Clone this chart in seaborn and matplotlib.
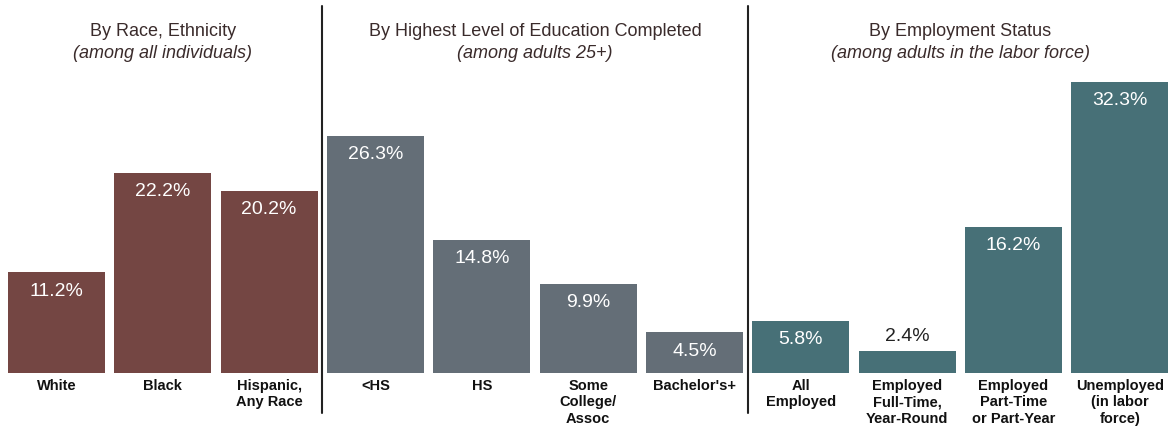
import matplotlib
matplotlib.use("Agg")
import matplotlib.pyplot as plt
import seaborn as sns
import pandas as pd

categories = ["White", "Black", "Hispanic,\nAny Race",
              "<HS", "HS", "Some\nCollege/\nAssoc", "Bachelor's+",
              "All\nEmployed", "Employed\nFull-Time,\nYear-Round",
              "Employed\nPart-Time\nor Part-Year", "Unemployed\n(in labor\nforce)"]
values = [11.2, 22.2, 20.2, 26.3, 14.8, 9.9, 4.5, 5.8, 2.4, 16.2, 32.3]
groups = ["race"] * 3 + ["edu"] * 4 + ["emp"] * 4
group_titles = ["By Race, Ethnicity", "By Highest Level of Education Completed", "By Employment Status"]
group_subtitles = ["(among all individuals)", "(among adults 25+)", "(among adults in the labor force)"]
group_keys = ["race", "edu", "emp"]
palette = {"race": "#744643", "edu": "#646e77", "emp": "#477077"}

df = pd.DataFrame({"category": categories, "value": values, "group": groups})

sns.set_theme(style="white")
plt.rcParams["font.family"] = ["Liberation Sans", "DejaVu Sans"]

fig = plt.figure(figsize=(11.72, 4.38), dpi=100)
ax = fig.add_axes([0, 0.1484, 1, 0.8516])

sns.barplot(data=df, x="category", y="value", hue="group", palette=palette,
            order=categories, hue_order=group_keys, dodge=False, width=0.913,
            saturation=1, legend=False, linewidth=0, edgecolor="none", ax=ax)

ax.set_xlim(-0.531, 10.49)
ax.set_ylim(0, 41.4)
for s in ax.spines.values():
    s.set_visible(False)
ax.set_yticks([])
ax.set_xlabel("")
ax.set_ylabel("")
ax.tick_params(axis="x", length=0, pad=4.5)
for lbl in ax.get_xticklabels():
    lbl.set_fontweight("bold")
    lbl.set_fontsize(10.5)
    lbl.set_color("#111111")

text_dark = "#3a2b2b"
for i, v in enumerate(values):
    if v >= 4:
        ax.text(i, v - 2.1, f"{v:.1f}%", ha="center", va="center", color="white", fontsize=14)
    else:
        ax.text(i, v + 1.6, f"{v:.1f}%", ha="center", va="center", color="#222222", fontsize=14)

# group dividers between groups
bounds = []
idx = 0
for g in group_keys:
    n = groups.count(g)
    bounds.append((idx, idx + n - 1))
    idx += n
for (a, b) in bounds[:-1]:
    xd = b + 0.5
    ax.plot([xd, xd], [-4.44, 40.7], color="#222222", lw=1.5, clip_on=False)

for (a, b), t, st in zip(bounds, group_titles, group_subtitles):
    xc = (a + b) / 2
    ax.text(xc, 37.85, t, ha="center", va="center", fontsize=13, color=text_dark)
    ax.text(xc, 35.5, st, ha="center", va="center", fontsize=13, color=text_dark, style="italic")

fig.savefig("out.png", dpi=100)
